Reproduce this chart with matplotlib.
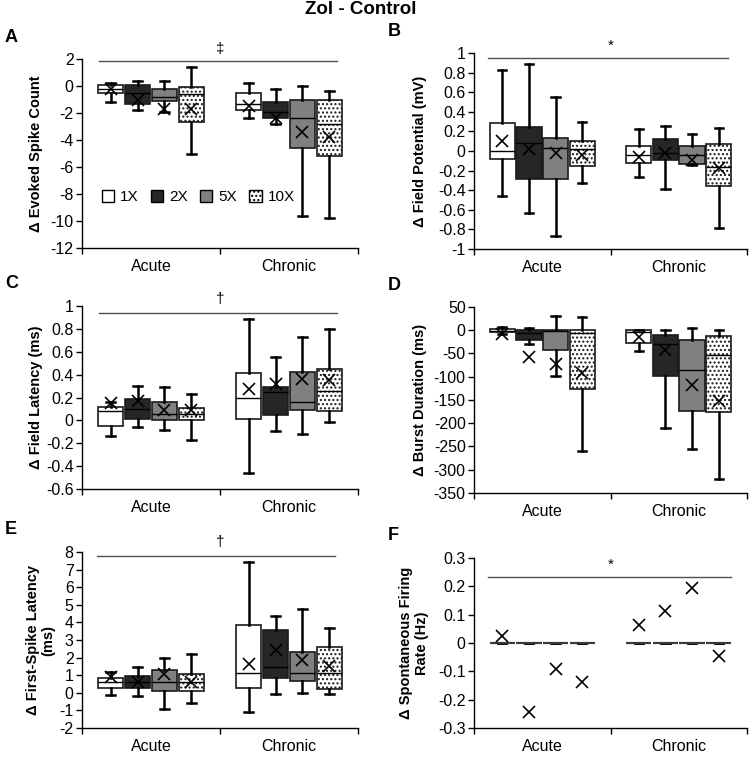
import matplotlib
matplotlib.use("Agg")
import matplotlib.pyplot as plt
from matplotlib.patches import Patch
import numpy as np

plt.rcParams['font.family'] = ['Liberation Sans', 'DejaVu Sans']
plt.rcParams['axes.unicode_minus'] = False
plt.rcParams['hatch.linewidth'] = 1.0

categories = ["Acute", "Chronic"]
doses = ["1X", "2X", "5X", "10X"]

# order: Acute 1X,2X,5X,10X, Chronic 1X,2X,5X,10X
A_whislo = [-1.2, -1.8, -1.9, -5.0, -2.4, -2.8, -9.6, -9.8]
A_q1 = [-0.5, -1.3, -1.1, -2.7, -1.8, -2.4, -4.6, -5.2]
A_med = [-0.25, -0.55, -0.8, -0.6, -1.35, -1.9, -2.4, -2.8]
A_q3 = [0.1, 0.05, -0.2, -0.1, -0.55, -1.2, -1.0, -1.0]
A_whishi = [0.2, 0.4, 0.4, 1.4, 0.2, -0.2, 0.0, -0.4]
A_mean = [-0.2, -1.05, -1.7, -1.7, -1.45, -2.35, -3.4, -3.75]

B_whislo = [-0.46, -0.63, -0.87, -0.33, -0.27, -0.39, -0.14, -0.79]
B_q1 = [-0.08, -0.29, -0.29, -0.15, -0.12, -0.09, -0.13, -0.36]
B_med = [0.0, 0.08, 0.03, 0.02, -0.04, -0.02, -0.04, -0.16]
B_q3 = [0.29, 0.24, 0.13, 0.10, 0.05, 0.12, 0.05, 0.07]
B_whishi = [0.83, 0.89, 0.55, 0.30, 0.22, 0.26, 0.17, 0.23]
B_mean = [0.10, 0.02, -0.02, -0.04, -0.06, -0.02, -0.09, -0.17]

C_whislo = [-0.14, -0.06, -0.08, -0.17, -0.46, -0.09, -0.12, -0.01]
C_q1 = [-0.05, 0.015, 0.0, 0.0, 0.01, 0.05, 0.09, 0.08]
C_med = [0.08, 0.10, 0.06, 0.06, 0.20, 0.25, 0.16, 0.26]
C_q3 = [0.12, 0.19, 0.16, 0.11, 0.41, 0.29, 0.42, 0.45]
C_whishi = [0.16, 0.30, 0.29, 0.23, 0.89, 0.55, 0.73, 0.80]
C_mean = [0.15, 0.17, 0.09, 0.09, 0.27, 0.32, 0.36, 0.35]

D_whislo = [-8, -30, -99, -259, -44, -210, -256, -319]
D_q1 = [-4, -20, -42, -126, -27, -99, -174, -175]
D_med = [-2, -6, -2, -6, -4, -29, -86, -54]
D_q3 = [3, 1, 1, 1, 1, -10, -20, -12]
D_whishi = [6, 5, 31, 28, 1, 0, 4, 0]
D_mean = [-9, -58, -72, -92, -15, -42, -117, -152]

E_whislo = [-0.1, -0.2, -0.9, -0.59, -1.1, -0.06, -0.02, -0.06]
E_q1 = [0.27, 0.27, 0.13, 0.13, 0.3, 0.83, 0.66, 0.23]
E_med = [0.59, 0.6, 0.6, 0.59, 1.12, 1.46, 1.14, 1.14]
E_q3 = [0.85, 0.95, 1.27, 1.08, 3.86, 3.54, 2.31, 2.63]
E_whishi = [1.2, 1.46, 1.95, 2.22, 7.42, 4.34, 4.75, 3.67]
E_mean = [0.89, 0.6, 1.08, 0.6, 1.65, 2.44, 1.84, 1.55]

F_whislo = [0, 0, 0, 0, 0, 0, 0, 0]
F_q1 = [0, 0, 0, 0, 0, 0, 0, 0]
F_med = [0, 0, 0, 0, 0, 0, 0, 0]
F_q3 = [0, 0, 0, 0, 0, 0, 0, 0]
F_whishi = [0, 0, 0, 0, 0, 0, 0, 0]
F_mean = [0.026, -0.242, -0.092, -0.139, 0.065, 0.112, 0.194, -0.047]

A_ticks = [-12, -10, -8, -6, -4, -2, 0, 2]
B_ticks = [-1, -0.8, -0.6, -0.4, -0.2, 0, 0.2, 0.4, 0.6, 0.8, 1]
C_ticks = [-0.6, -0.4, -0.2, 0, 0.2, 0.4, 0.6, 0.8, 1]
D_ticks = [-350, -300, -250, -200, -150, -100, -50, 0, 50]
E_ticks = [-2, -1, 0, 1, 2, 3, 4, 5, 6, 7, 8]
F_ticks = [-0.3, -0.2, -0.1, 0, 0.1, 0.2, 0.3]

fill_colors = ['white', '#262626', '#808080', 'white']
hatches = [None, None, None, '....']

W, H = 755, 771
fig = plt.figure(figsize=(W / 100, H / 100), dpi=100)


def frac_rect(x0, y0, x1, y1):
    return [x0 / W, 1 - y1 / H, (x1 - x0) / W, (y1 - y0) / H]


panels = [
    dict(letter='A', rect=(82, 59, 358, 248), data=(A_whislo, A_q1, A_med, A_q3, A_whishi, A_mean),
         ticks=A_ticks, ylabel='Δ Evoked Spike Count', labx=36, sig=('‡', 1.85, 0.125, 1.85, 2.75)),
    dict(letter='B', rect=(474, 53, 747, 249), data=(B_whislo, B_q1, B_med, B_q3, B_whishi, B_mean),
         ticks=B_ticks, ylabel='Δ Field Potential (mV)', labx=420, sig=('*', 0.95, 0.105, 1.86, 1.07)),
    dict(letter='C', rect=(82, 306, 358, 489), data=(C_whislo, C_q1, C_med, C_q3, C_whishi, C_mean),
         ticks=C_ticks, ylabel='Δ Field Latency (ms)', labx=36, sig=('†', 0.94, 0.125, 1.85, 1.06)),
    dict(letter='D', rect=(474, 307, 747, 493), data=(D_whislo, D_q1, D_med, D_q3, D_whishi, D_mean),
         ticks=D_ticks, ylabel='Δ Burst Duration (ms)', labx=420, sig=None),
    dict(letter='E', rect=(82, 552, 358, 728), data=(E_whislo, E_q1, E_med, E_q3, E_whishi, E_mean),
         ticks=E_ticks, ylabel='Δ First-Spike Latency\n(ms)', labx=41, sig=('†', 7.75, 0.108, 1.83, 8.55)),
    dict(letter='F', rect=(474, 558, 747, 728), data=(F_whislo, F_q1, F_med, F_q3, F_whishi, F_mean),
         ticks=F_ticks, ylabel='Δ Spontaneous Firing\nRate (Hz)', labx=414, sig=('*', 0.232, 0.105, 1.885, 0.275)),
]

offsets = [-0.2925, -0.0975, 0.0975, 0.2925]
positions = [0.5 + o for o in offsets] + [1.5 + o for o in offsets]

for p in panels:
    x0, y0, x1, y1 = p['rect']
    ax = fig.add_axes(frac_rect(x0, y0, x1, y1))
    wl, q1, md, q3, wh, mn = p['data']
    stats = []
    for i in range(8):
        stats.append(dict(whislo=wl[i], q1=q1[i], med=md[i], q3=q3[i], whishi=wh[i], mean=mn[i], fliers=[]))
    is_f = p['letter'] == 'F'
    bp = ax.bxp(stats, positions=positions, widths=0.185, patch_artist=True, showmeans=True,
                capwidths=0.06,
                boxprops=dict(edgecolor='#3a3a3a' if is_f else '#1a1a1a', linewidth=1.5 if is_f else 1.2),
                medianprops=dict(color='#3a3a3a' if is_f else 'black', linewidth=1.5 if is_f else 1.0),
                whiskerprops=dict(color='black', linewidth=1.8),
                capprops=dict(color='black', linewidth=1.8),
                meanprops=dict(marker='x', markeredgecolor='black', markersize=8, markeredgewidth=1.2,
                               linestyle='none'))
    for i, box in enumerate(bp['boxes']):
        box.set_facecolor(fill_colors[i % 4])
        if hatches[i % 4]:
            box.set_hatch(hatches[i % 4])
    for m in bp['means']:
        m.set_zorder(5)

    ticks = p['ticks']
    ax.set_ylim(ticks[0], ticks[-1])
    ax.set_yticks(ticks)
    ax.set_yticklabels(['{:g}'.format(t) for t in ticks], fontsize=11.5)
    ax.set_xlim(0, 2)
    ax.set_xticks([0, 1, 2])
    ax.set_xticklabels([])
    ax.set_xticks([0.5, 1.5], minor=True)
    ax.set_xticklabels(categories, minor=True, fontsize=11.5)
    ax.tick_params(axis='x', which='minor', length=0, pad=8)
    ax.tick_params(axis='x', which='major', length=4, width=1, direction='out')
    ax.tick_params(axis='y', length=4, width=1, direction='out', pad=2)
    for s in ['top', 'right']:
        ax.spines[s].set_visible(False)
    for s in ['left', 'bottom']:
        ax.spines[s].set_linewidth(1.0)

    if p['sig'] is not None:
        sym, ly, lx0, lx1, ty = p['sig']
        ax.plot([lx0, lx1], [ly, ly], color='#505050', linewidth=1.0, zorder=1, clip_on=False)
        ax.text(1.0, ty, sym, ha='center', va='center', fontsize=11, clip_on=False)

    # y label
    cy = (y0 + y1) / 2
    fig.text(p['labx'] / W, 1 - cy / H, p['ylabel'], rotation=90, ha='center', va='center',
             fontsize=10.5, fontweight='bold', linespacing=1.1)
    # panel letter
    lx = 5 if x0 < 300 else 388
    fig.text(lx / W, 1 - (y0 - 22) / H, p['letter'], ha='left', va='center', fontsize=13, fontweight='bold')

    if p['letter'] == 'A':
        handles = [Patch(facecolor=fill_colors[i], edgecolor='black', hatch=hatches[i]) for i in range(4)]
        ax.legend(handles, doses, loc='center left', bbox_to_anchor=(0.05, 0.27), ncol=4, frameon=False,
                  fontsize=11, handlelength=0.8, handleheight=0.8, handletextpad=0.4, columnspacing=0.8,
                  borderaxespad=0)

fig.text(361 / W, 1 - 10 / H, 'Zol - Control', ha='center', va='center', fontsize=13.5, fontweight='bold')

fig.savefig('out.png', dpi=100)
